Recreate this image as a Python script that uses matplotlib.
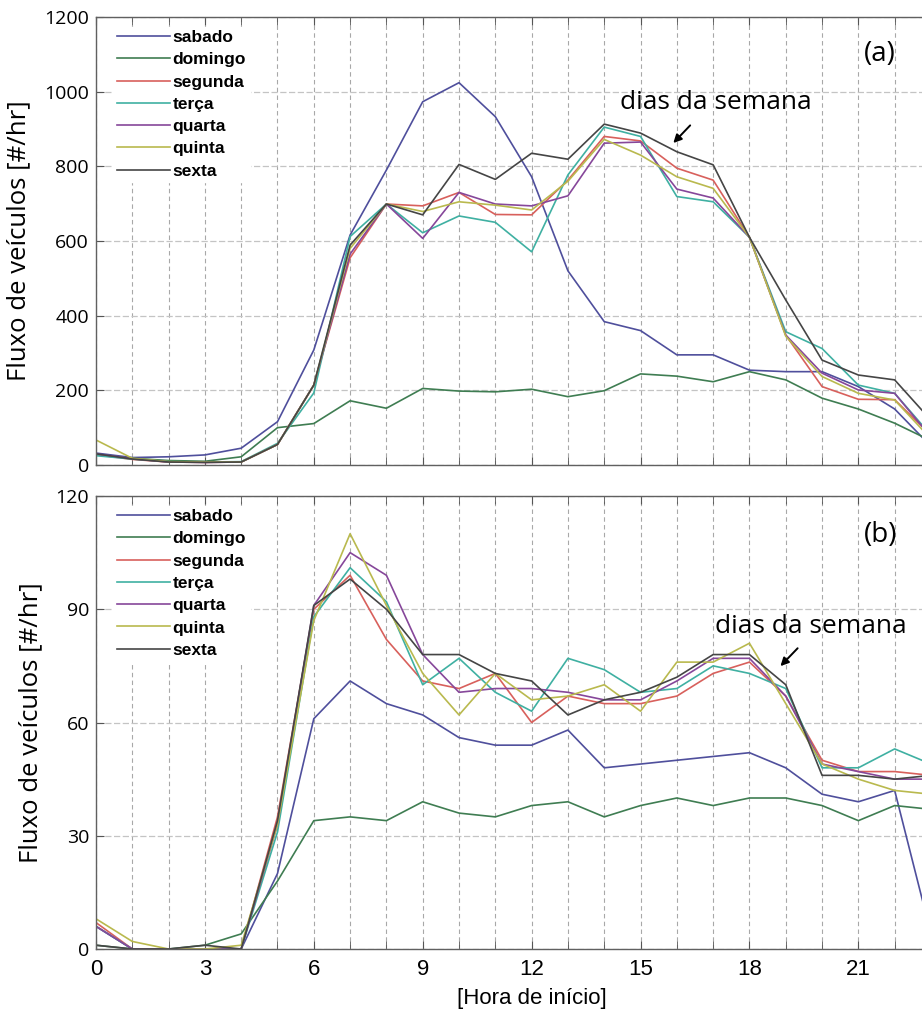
import matplotlib.pyplot as plt
from matplotlib.ticker import MultipleLocator, FixedLocator

# hourly vehicle flow, hours 0..23
hours = list(range(24))
days = ['sabado', 'domingo', 'segunda', 'terça', 'quarta', 'quinta', 'sexta']
colors = ['#4f4f9c', '#3f7d52', '#d8605c', '#3fb0a2', '#86479a', '#b9b94e', '#454545']
hour_ticks = [0, 3, 6, 9, 12, 15, 18, 21]

# panel (a)
sabado_a = [32, 20, 22, 27, 45, 116, 308, 616, 790, 973, 1024, 933, 772, 520, 384, 360, 295, 295, 254, 250, 250, 210, 150, 50]
domingo_a = [27, 18, 12, 10, 22, 100, 111, 172, 152, 205, 198, 196, 203, 183, 199, 244, 238, 223, 250, 228, 179, 150, 112, 65]
segunda_a = [28, 15, 8, 7, 8, 55, 214, 555, 699, 694, 730, 671, 670, 763, 880, 868, 795, 763, 610, 348, 210, 176, 175, 80]
terca_a = [25, 16, 9, 8, 9, 58, 193, 612, 699, 622, 667, 650, 571, 777, 905, 880, 719, 705, 610, 357, 312, 214, 192, 80]
quarta_a = [30, 17, 8, 7, 8, 55, 214, 565, 699, 607, 730, 699, 694, 721, 862, 865, 739, 715, 610, 348, 246, 201, 192, 75]
quinta_a = [67, 18, 9, 8, 8, 55, 214, 580, 699, 679, 705, 696, 683, 760, 872, 830, 772, 741, 610, 345, 237, 192, 174, 70]
sexta_a = [30, 16, 8, 7, 8, 55, 214, 589, 699, 670, 805, 765, 835, 819, 913, 889, 839, 804, 610, 442, 281, 241, 228, 120]

# panel (b)
sabado_b = [6, 0, 0, 0, 0, 20, 61, 71, 65, 62, 56, 54, 54, 58, 48, 49, 50, 51, 52, 48, 41, 39, 42, 4]
domingo_b = [1, 0, 0, 1, 4, 18, 34, 35, 34, 39, 36, 35, 38, 39, 35, 38, 40, 38, 40, 40, 38, 34, 38, 37]
segunda_b = [7, 0, 0, 0, 0, 35, 90, 99, 82, 71, 69, 73, 60, 67, 65, 65, 67, 73, 76, 67, 50, 47, 47, 46]
terca_b = [6, 0, 0, 0, 0, 31, 88, 101, 92, 70, 77, 68, 63, 77, 74, 68, 69, 75, 73, 69, 48, 48, 53, 49]
quarta_b = [6, 0, 0, 0, 0, 33, 91, 105, 99, 78, 68, 69, 69, 68, 66, 66, 71, 77, 77, 67, 49, 47, 45, 45]
quinta_b = [8, 2, 0, 0, 1, 33, 87, 110, 91, 73, 62, 73, 66, 67, 70, 63, 76, 76, 81, 65, 49, 45, 42, 41]
sexta_b = [1, 0, 0, 1, 0, 34, 91, 98, 90, 78, 78, 73, 71, 62, 66, 68, 72, 78, 78, 70, 46, 46, 45, 46]

series_a = [sabado_a, domingo_a, segunda_a, terca_a, quarta_a, quinta_a, sexta_a]
series_b = [sabado_b, domingo_b, segunda_b, terca_b, quarta_b, quinta_b, sexta_b]

label_font = 'Open Sans'
axis_font = 'Liberation Sans'

fig = plt.figure(figsize=(9.22, 10.1), dpi=100)
ax_a = fig.add_axes([0.1041, 0.5396, 0.945, 0.4436])
ax_b = fig.add_axes([0.1041, 0.0604, 0.945, 0.4485])


def style_axes(axes, ymax, ystep):
    axes.set_xlim(0, 24)
    axes.set_ylim(0, ymax)
    axes.xaxis.set_major_locator(FixedLocator(hour_ticks))
    axes.xaxis.set_minor_locator(MultipleLocator(1))
    axes.yaxis.set_major_locator(MultipleLocator(ystep))
    axes.grid(which='both', axis='x', color='#a8a8a8', linestyle=(0, (4, 3)), linewidth=0.8)
    axes.grid(which='major', axis='y', color='#c4c4c4', linestyle=(0, (5, 2)), linewidth=0.9)
    axes.set_axisbelow(True)
    axes.tick_params(which='both', direction='in', top=True, right=False, color='#555555', length=6)
    axes.tick_params(axis='y', labelsize=14, pad=5)
    for lab in axes.get_yticklabels():
        lab.set_family(label_font)
    for side in ['left', 'top', 'bottom']:
        axes.spines[side].set_color('#606060')
        axes.spines[side].set_linewidth(1.0)
    axes.spines['right'].set_visible(False)
    axes.set_ylabel('Fluxo de veículos [#/hr]', family=label_font, fontsize=18.5, labelpad=9)


for axes, series, ymax, ystep in [(ax_a, series_a, 1200, 200), (ax_b, series_b, 120, 30)]:
    for name, vals, col in zip(days, series, colors):
        axes.plot(hours, vals, color=col, linewidth=1.2, label=name)
    style_axes(axes, ymax, ystep)
    axes.legend(loc='upper left', bbox_to_anchor=(0.009, 1.0), frameon=True,
                fancybox=False, framealpha=1, edgecolor='white',
                prop={'family': axis_font, 'size': 12.5, 'weight': 'bold'},
                handlelength=3.05, handletextpad=0.17, labelspacing=0.41,
                borderpad=0.2, borderaxespad=0.55)

ax_a.tick_params(axis='x', labelbottom=False)
ax_b.tick_params(axis='x', labelsize=16, pad=7)
for lab in ax_b.get_xticklabels():
    lab.set_family(axis_font)
ax_b.set_xlabel('[Hora de início]', family=axis_font, fontsize=16, labelpad=6)

# panel tags and annotations
ax_a.text(21.6, 1101, '(a)', family=label_font, fontsize=20, ha='center', va='center')
ax_b.text(21.6, 109.7, '(b)', family=label_font, fontsize=20, ha='center', va='center')

ax_a.text(17.08, 972, 'dias da semana', family=label_font, fontsize=19, ha='center', va='center')
ax_a.annotate('', xy=(15.85, 857), xytext=(16.42, 915),
              arrowprops=dict(arrowstyle='-|>', color='black', lw=1.4, mutation_scale=12))
ax_b.text(19.7, 85.3, 'dias da semana', family=label_font, fontsize=19, ha='center', va='center')
ax_b.annotate('', xy=(18.8, 74.4), xytext=(19.38, 80.2),
              arrowprops=dict(arrowstyle='-|>', color='black', lw=1.4, mutation_scale=12))

fig.savefig('out.png', dpi=100)
